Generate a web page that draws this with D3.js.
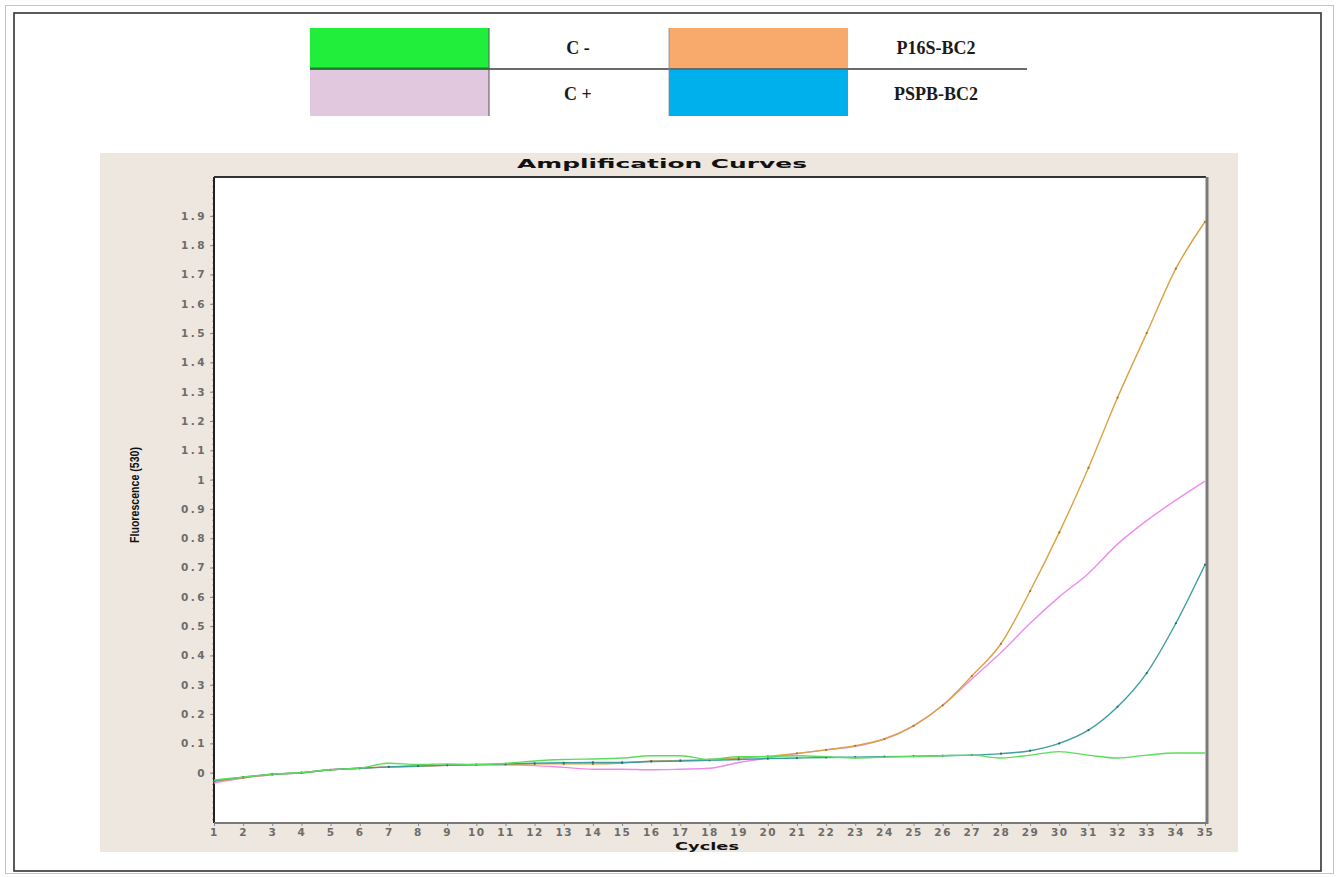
<!DOCTYPE html>
<html>
<head>
<meta charset="utf-8">
<script src="https://cdn.jsdelivr.net/npm/d3@7"></script>
<style>
  html, body { margin: 0; padding: 0; background: #ffffff; }
  svg { display: block; }
</style>
</head>
<body>
<svg id="chart" width="1338" height="877"></svg>
<script>
// PCR cycle numbers
const cycles = [1, 2, 3, 4, 5, 6, 7, 8, 9, 10, 11, 12, 13, 14, 15, 16, 17, 18,
  19, 20, 21, 22, 23, 24, 25, 26, 27, 28, 29, 30, 31, 32, 33, 34, 35];

// Fluorescence (530) readings per cycle
const negControl = [-0.025, -0.015, -0.005, 0.0, 0.01, 0.016, 0.032, 0.028, 0.03, 0.028,
  0.032, 0.04, 0.045, 0.047, 0.05, 0.058, 0.058, 0.045, 0.055, 0.055, 0.058, 0.055,
  0.05, 0.053, 0.055, 0.058, 0.06, 0.05, 0.06, 0.072, 0.06, 0.05, 0.06, 0.067, 0.067];
const posControl = [-0.035, -0.018, -0.007, 0.0, 0.01, 0.015, 0.02, 0.022, 0.025, 0.027,
  0.027, 0.024, 0.018, 0.012, 0.012, 0.01, 0.012, 0.015, 0.035, 0.05, 0.065, 0.078,
  0.09, 0.115, 0.16, 0.23, 0.32, 0.41, 0.51, 0.60, 0.68, 0.78, 0.86, 0.93, 0.995];
const p16s = [-0.03, -0.017, -0.006, 0.0, 0.01, 0.015, 0.02, 0.022, 0.025, 0.027,
  0.028, 0.03, 0.03, 0.03, 0.033, 0.04, 0.042, 0.045, 0.05, 0.056, 0.066, 0.078,
  0.092, 0.115, 0.16, 0.23, 0.33, 0.44, 0.62, 0.82, 1.04, 1.28, 1.50, 1.72, 1.88];
const pspb = [-0.028, -0.015, -0.005, 0.0, 0.01, 0.015, 0.02, 0.023, 0.026, 0.028,
  0.03, 0.032, 0.034, 0.035, 0.035, 0.038, 0.04, 0.042, 0.045, 0.048, 0.05, 0.052,
  0.053, 0.055, 0.056, 0.058, 0.06, 0.065, 0.075, 0.10, 0.145, 0.225, 0.34, 0.51, 0.71];

// Axis tick labels
const yTicks = [0, 0.1, 0.2, 0.3, 0.4, 0.5, 0.6, 0.7, 0.8, 0.9, 1, 1.1, 1.2, 1.3,
  1.4, 1.5, 1.6, 1.7, 1.8, 1.9];
const yTickLabels = ["0", "0.1", "0.2", "0.3", "0.4", "0.5", "0.6", "0.7", "0.8", "0.9",
  "1", "1.1", "1.2", "1.3", "1.4", "1.5", "1.6", "1.7", "1.8", "1.9"];

// Legend entries (swatch colour, label)
const legendLabels = ["C -", "C +", "P16S-BC2", "PSPB-BC2"];
const legendColors = ["#20ee3a", "#e2c8de", "#f7aa6c", "#00b0ec"];

const series = [
  { name: "C +", values: posControl, color: "#ee8cee", dots: false },
  { name: "P16S-BC2", values: p16s, color: "#d9a242", dots: true, dotColor: "#a87418" },
  { name: "PSPB-BC2", values: pspb, color: "#3e9e9e", dots: true, dotColor: "#1f6f6f" },
  { name: "C -", values: negControl, color: "#5cdc5c", dots: false }
];

const svg = d3.select("#chart");

// Page frames
svg.append("rect").attr("x", 5.5).attr("y", 5.5).attr("width", 1328).attr("height", 868)
  .attr("fill", "none").attr("stroke", "#c4c4c4").attr("stroke-width", 1);
svg.append("rect").attr("x", 14).attr("y", 13).attr("width", 1307).attr("height", 858)
  .attr("fill", "none").attr("stroke", "#333").attr("stroke-width", 1.6);

// ---- Legend table ----
const legend = svg.append("g");
const cellX = [310, 669];
const rowY = [28, 70];
const rowH = [41, 46];
legendLabels.forEach((lab, i) => {
  const col = i < 2 ? 0 : 1;
  const row = i % 2;
  legend.append("rect")
    .attr("x", cellX[col]).attr("y", rowY[row])
    .attr("width", 179).attr("height", rowH[row])
    .attr("fill", legendColors[i]);
  legend.append("text")
    .attr("x", col === 0 ? 578 : 936)
    .attr("y", row === 0 ? 54 : 100)
    .attr("text-anchor", "middle")
    .attr("font-family", "Liberation Serif, Times New Roman, serif")
    .attr("font-weight", "bold")
    .attr("font-size", 18)
    .attr("fill", "#1a1a1a")
    .text(lab);
});
legend.append("line").attr("x1", 310).attr("x2", 1027).attr("y1", 69).attr("y2", 69)
  .attr("stroke", "#6a6a6a").attr("stroke-width", 2);
legend.append("line").attr("x1", 310).attr("x2", 489).attr("y1", 68.5).attr("y2", 68.5)
  .attr("stroke", "#1f7a2a").attr("stroke-width", 2);
legend.append("line").attr("x1", 489).attr("x2", 489).attr("y1", 28).attr("y2", 116)
  .attr("stroke", "#555").attr("stroke-width", 1);
legend.append("line").attr("x1", 669).attr("x2", 669).attr("y1", 28).attr("y2", 116)
  .attr("stroke", "#888").attr("stroke-width", 0.8);

// ---- Chart panel ----
svg.append("rect").attr("x", 100).attr("y", 153).attr("width", 1138).attr("height", 699)
  .attr("fill", "#ede7df");

const plot = { left: 214, right: 1206, top: 177, bottom: 823 };
svg.append("rect").attr("x", plot.left).attr("y", plot.top)
  .attr("width", plot.right - plot.left).attr("height", plot.bottom - plot.top)
  .attr("fill", "#ffffff");

const x = d3.scaleLinear().domain([1, 35]).range([214, 1205]);
const y = d3.scaleLinear().domain([0, 1.9]).range([772.7, 215.9]);

// Title
svg.append("text")
  .attr("x", 662).attr("y", 168)
  .attr("text-anchor", "middle")
  .attr("font-family", "DejaVu Sans, Verdana, sans-serif")
  .attr("font-weight", "bold")
  .attr("font-size", 12.5)
  .attr("textLength", 290).attr("lengthAdjust", "spacingAndGlyphs")
  .attr("fill", "#111")
  .text("Amplification Curves");

// Y axis label
svg.append("text")
  .attr("transform", "translate(139,495) rotate(-90)")
  .attr("text-anchor", "middle")
  .attr("font-family", "Liberation Sans Narrow, Liberation Sans, Arial, sans-serif")
  .attr("font-weight", "bold")
  .attr("font-size", 12)
  .attr("textLength", 96).attr("lengthAdjust", "spacingAndGlyphs")
  .attr("fill", "#111")
  .text("Fluorescence (530)");

// X axis label
svg.append("text")
  .attr("x", 707).attr("y", 850)
  .attr("text-anchor", "middle")
  .attr("font-family", "DejaVu Sans, Verdana, sans-serif")
  .attr("font-weight", "bold")
  .attr("font-size", 11)
  .attr("textLength", 64).attr("lengthAdjust", "spacingAndGlyphs")
  .attr("fill", "#111")
  .text("Cycles");

// Y axis (major + minor ticks)
const yMinor = d3.range(-0.16, 2.03, 0.02);
svg.append("g").selectAll("line").data(yMinor).join("line")
  .attr("x1", plot.left - 2).attr("x2", plot.left)
  .attr("y1", d => y(d)).attr("y2", d => y(d))
  .attr("stroke", "#9a9a9a").attr("stroke-width", 0.8);

const yAxis = d3.axisLeft(y).tickValues(yTicks).tickSize(4).tickPadding(3)
  .tickFormat((d, i) => yTickLabels[i]);
const yAxisG = svg.append("g").attr("transform", `translate(${plot.left},0)`).call(yAxis);
yAxisG.select(".domain").remove();
yAxisG.selectAll(".tick line").attr("stroke", "#888");
yAxisG.selectAll(".tick text")
  .attr("font-family", "DejaVu Sans, Verdana, sans-serif")
  .attr("font-weight", "bold")
  .attr("font-size", 10.5)
  .attr("letter-spacing", "2.5px")
  .attr("fill", "#6c6c6c");

// X axis
const xAxis = d3.axisBottom(x).tickValues(cycles).tickSize(3).tickPadding(3)
  .tickFormat(d3.format("d"));
const xAxisG = svg.append("g").attr("transform", `translate(0,${plot.bottom})`).call(xAxis);
xAxisG.select(".domain").remove();
xAxisG.selectAll(".tick line").attr("stroke", "#888");
xAxisG.selectAll(".tick text")
  .attr("font-family", "DejaVu Sans, Verdana, sans-serif")
  .attr("font-weight", "bold")
  .attr("font-size", 10.5)
  .attr("letter-spacing", "1.5px")
  .attr("fill", "#6c6c6c");

// Plot frame: dark left/top, grey right/bottom
svg.append("line").attr("x1", plot.left).attr("x2", plot.left)
  .attr("y1", plot.top).attr("y2", plot.bottom)
  .attr("stroke", "#222").attr("stroke-width", 2);
svg.append("line").attr("x1", plot.left).attr("x2", plot.right)
  .attr("y1", plot.top).attr("y2", plot.top)
  .attr("stroke", "#333").attr("stroke-width", 2);
svg.append("line").attr("x1", plot.right + 1).attr("x2", plot.right + 1)
  .attr("y1", plot.top).attr("y2", plot.bottom + 1)
  .attr("stroke", "#7a7a7a").attr("stroke-width", 3);
svg.append("line").attr("x1", plot.left).attr("x2", plot.right + 2)
  .attr("y1", plot.bottom).attr("y2", plot.bottom)
  .attr("stroke", "#7a7a7a").attr("stroke-width", 2);

// Amplification curves
const line = d3.line()
  .x((d, i) => x(cycles[i]))
  .y(d => y(d))
  .curve(d3.curveMonotoneX);

const curves = svg.append("g");
series.forEach(s => {
  curves.append("path")
    .datum(s.values)
    .attr("fill", "none")
    .attr("stroke", s.color)
    .attr("stroke-width", 1.4)
    .attr("d", line);
  if (s.dots) {
    curves.append("g").selectAll("circle").data(s.values).join("circle")
      .attr("cx", (d, i) => x(cycles[i]))
      .attr("cy", d => y(d))
      .attr("r", 1.1)
      .attr("fill", s.dotColor);
  }
});
</script>
</body>
</html>
